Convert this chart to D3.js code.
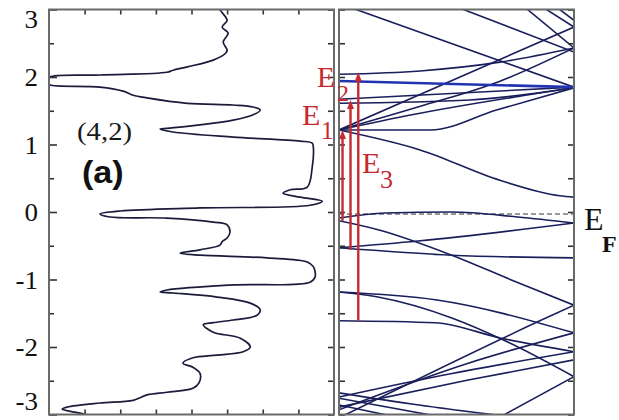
<!DOCTYPE html>
<html>
<head>
<meta charset="utf-8">
<script src="https://cdn.jsdelivr.net/npm/d3@7"></script>
<style>
  body { margin: 0; background: #fff; }
  svg { display: block; }
</style>
</head>
<body>
<svg id="chart" width="619" height="420"></svg>
<script>
// Energy axis (eV), shared by both panels
const energyTicks = [-3, -2, -1, 0, 1, 2, 3];
const energyMinorTicks = [-2.5, -1.5, -0.5, 0.5, 1.5, 2.5];
const dosTicks = [1, 2, 3, 4, 5, 6, 7];
const fermiLevel = -0.03;

// Density of states of the (4,2) tube: [energy, DOS]
const dosCurve = [
  [3.05, 4.80], [3.0, 4.80], [2.84, 5.0], [2.74, 4.86], [2.65, 5.03], [2.52, 4.89],
  [2.40, 5.0], [2.36, 4.97], [2.25, 4.61], [2.15, 3.88], [2.10, 3.48], [2.07, 3.31],
  [2.03, 1.43], [2.00, 0.03], [1.96, 0], [1.90, 0], [1.88, 0.03], [1.85, 1.43],
  [1.79, 2.08], [1.73, 2.36], [1.69, 2.75], [1.61, 3.88], [1.585, 5.17], [1.556, 5.73],
  [1.51, 5.93], [1.44, 5.73], [1.36, 5.17], [1.29, 4.24], [1.24, 3.31], [1.23, 3.12],
  [1.185, 3.48], [1.11, 5.17], [1.05, 7.05], [1.02, 7.39], [0.96, 7.42], [0.67, 7.39],
  [0.37, 7.25], [0.33, 6.77], [0.28, 6.57], [0.22, 7.05], [0.16, 7.67], [0.10, 7.33],
  [0.06, 4.24], [0.015, 2.0], [-0.03, 1.43], [-0.074, 1.71], [-0.09, 3.31], [-0.15, 4.61],
  [-0.19, 5.0], [-0.30, 5.08], [-0.385, 5.0], [-0.44, 4.86], [-0.49, 4.80], [-0.56, 4.24],
  [-0.61, 3.68], [-0.64, 4.24], [-0.68, 6.12], [-0.74, 7.25], [-0.81, 7.42], [-0.96, 7.47],
  [-1.04, 7.33], [-1.08, 5.17], [-1.156, 3.31], [-1.185, 3.12], [-1.2, 3.48], [-1.26, 4.72],
  [-1.35, 5.65], [-1.45, 5.93], [-1.53, 5.84], [-1.60, 5.17], [-1.64, 4.61], [-1.67, 4.33],
  [-1.78, 4.61], [-1.87, 5.37], [-2.0, 5.65], [-2.07, 5.45], [-2.12, 4.72], [-2.16, 4.04],
  [-2.24, 3.76], [-2.30, 4.04], [-2.39, 4.24], [-2.53, 4.21], [-2.61, 4.04], [-2.67, 3.31],
  [-2.71, 2.75], [-2.79, 2.36], [-2.83, 1.43], [-2.89, 0.51], [-2.92, 0.37], [-2.96, 0.67],
  [-2.99, 0.96], [-3.03, 1.15]
];

// Band dispersions: [k, energy], k running across the zone from 0 to 1
const bandA  = [[0, 3.09], [1, 1.85]];
const bandB  = [[0.455, 3.1], [1, 2.37]];
const bandC  = [[0.785, 3.05], [1, 2.43]];
const bandD  = [[0.86, 3.05], [1, 2.74]];
const bandE  = [[0.92, 3.05], [1, 2.84]];
const bandF  = [[0, 1.215], [1, 2.74]];
const bandG  = [[0, 1.215], [0.35, 1.57], [0.68, 1.93], [1, 2.43]];
const bandH  = [[0, 2.04], [0.345, 2.09], [0.685, 2.22], [1, 2.43]];
const bandI  = [[0, 1.94], [1, 1.85]];
const bandJ  = [[0, 1.67], [1, 1.85]];
const bandK  = [[0, 1.61], [0.557, 1.66], [1, 1.84]];
const bandL  = [[0, 1.215], [0.31, 1.44], [1, 1.84]];
const bandM  = [[0, 1.215], [0.39, 1.215], [0.67, 1.51], [1, 1.84]];
const bandN  = [[0, 1.215], [0.345, 0.92], [0.685, 0.47], [0.94, 0.24], [1, 0.22]];
const bandO  = [[0, -0.09], [0.196, -0.015], [0.48, 0], [0.76, -0.074], [1, -0.163]];
const bandP  = [[0, -0.13], [0.174, -0.27], [0.48, -0.64], [0.736, -1.01], [1, -1.38]];
const bandQ  = [[0, -0.53], [0.336, -0.43], [1, -0.163]];
const bandR  = [[0, -0.53], [0.48, -0.64], [1, -0.68]];
const bandS  = [[0, -1.185], [0.41, -1.30], [1, -1.79]];
const bandT  = [[0, -1.185], [0.166, -1.26], [0.48, -1.57], [0.72, -1.93], [1, -2.44]];
const bandU  = [[0, -1.61], [0.41, -1.64], [0.69, -1.87], [1, -2.07]];
const bandV  = [[0, -3.05], [0.85, -1.62], [1, -1.38]];
const bandW  = [[0, -2.93], [0.55, -2.24], [1, -1.79]];
const bandX  = [[0, -2.74], [0.41, -2.44], [1, -2.07]];
const bandY  = [[0, -2.89], [0.55, -2.49], [1, -2.19]];
const bandZ  = [[0, -2.68], [0.34, -2.86], [0.694, -3.02]];
const bandZ2 = [[0.694, -3.02], [1, -2.44]];
const bandZ3 = [[0, -2.76], [0.41, -3.02]];
const bandZ4 = [[0, -2.86], [0.22, -3.02]];

const darkBands = [bandA, bandB, bandC, bandD, bandE, bandF, bandG, bandH, bandJ, bandK,
  bandL, bandM, bandN, bandO, bandP, bandQ, bandR, bandS, bandT, bandU, bandV, bandW,
  bandX, bandY, bandZ, bandZ2, bandZ3, bandZ4];
const blueBands = [bandI];

// Optical transitions E1, E2, E3: k position, lower and upper energies
const transitionNames = ["1", "2", "3"];
const transitionK = [0.015, 0.049, 0.082];
const transitionFrom = [-0.13, -0.56, -1.61];
const transitionTo = [1.215, 1.66, 2.07];

const svg = d3.select("#chart");

const y = d3.scaleLinear().domain([-3, 3]).range([414.5, 9.5]);
const xDos = d3.scaleLinear().domain([0, 8]).range([49, 334]);
const xK = d3.scaleLinear().domain([0, 1]).range([339, 574]);

const frameColor = "#6a6a6a";
const red = "#c62a30";
const serif = "'Liberation Serif', 'DejaVu Serif', serif";

// clip regions for the two panels
const defs = svg.append("defs");
defs.append("clipPath").attr("id", "clipDos").append("rect")
  .attr("x", xDos(0)).attr("y", y(3)).attr("width", xDos(8) - xDos(0)).attr("height", y(-3) - y(3));
defs.append("clipPath").attr("id", "clipBand").append("rect")
  .attr("x", xK(0)).attr("y", y(3)).attr("width", xK(1) - xK(0)).attr("height", y(-3) - y(3));

// ---- left panel: density of states ----
const dosLine = d3.line()
  .x(d => xDos(d[1]))
  .y(d => y(d[0]))
  .curve(d3.curveCatmullRom.alpha(0.5));

svg.append("path")
  .datum(dosCurve)
  .attr("clip-path", "url(#clipDos)")
  .attr("d", dosLine)
  .attr("fill", "none")
  .attr("stroke", "#1b1b3c")
  .attr("stroke-width", 1.7);

function styleAxis(g) {
  g.select(".domain").remove();
  g.selectAll(".tick line").attr("stroke", "#333").attr("stroke-width", 1.6);
}

// energy labels and inward ticks on the left edge
const leftAxis = svg.append("g")
  .attr("transform", `translate(${xDos(0)},0)`)
  .call(d3.axisLeft(y).tickValues(energyTicks).tickSize(-8).tickPadding(11).tickFormat(d => String(d)));
styleAxis(leftAxis);
leftAxis.selectAll(".tick text")
  .attr("font-family", serif)
  .attr("font-size", 25)
  .attr("fill", "#111")
  .attr("dy", d => d === 3 ? "0.71em" : d === -3 ? "-0.2em" : "0.34em")
  .attr("transform", "scale(1.08,1)");
leftAxis.selectAll(".tick text").each(function () {
  const t = d3.select(this);
  t.attr("x", +t.attr("x") / 1.08);
});

const leftMinor = svg.append("g")
  .attr("transform", `translate(${xDos(0)},0)`)
  .call(d3.axisLeft(y).tickValues(energyMinorTicks).tickSize(-5).tickFormat(""));
styleAxis(leftMinor);

// ticks on the inner edge of the DOS panel
const dosRight = svg.append("g")
  .attr("transform", `translate(${xDos(8)},0)`)
  .call(d3.axisRight(y).tickValues(energyTicks.concat(energyMinorTicks)).tickSize(-6).tickFormat(""));
styleAxis(dosRight);

// DOS ticks top and bottom, no labels
const dosTop = svg.append("g")
  .attr("transform", `translate(0,${y(3)})`)
  .call(d3.axisTop(xDos).tickValues(dosTicks).tickSize(-5).tickFormat(""));
styleAxis(dosTop);
const dosBottom = svg.append("g")
  .attr("transform", `translate(0,${y(-3)})`)
  .call(d3.axisBottom(xDos).tickValues(dosTicks).tickSize(-5).tickFormat(""));
styleAxis(dosBottom);

// ---- right panel: band structure ----
const bandLine = d3.line()
  .x(d => xK(d[0]))
  .y(d => y(d[1]))
  .curve(d3.curveMonotoneX);

const bandG0 = svg.append("g").attr("clip-path", "url(#clipBand)");

// Fermi level
bandG0.append("line")
  .attr("x1", xK(0)).attr("x2", xK(1))
  .attr("y1", y(fermiLevel)).attr("y2", y(fermiLevel))
  .attr("stroke", "#333").attr("stroke-width", 1)
  .attr("stroke-dasharray", "5,3");

bandG0.selectAll("path.band")
  .data(darkBands)
  .join("path")
  .attr("class", "band")
  .attr("d", bandLine)
  .attr("fill", "none")
  .attr("stroke", "#1a1f5c")
  .attr("stroke-width", 1.6);

bandG0.selectAll("path.blue")
  .data(blueBands)
  .join("path")
  .attr("class", "blue")
  .attr("d", bandLine)
  .attr("fill", "none")
  .attr("stroke", "#2233b0")
  .attr("stroke-width", 2.6);

const bandLeft = svg.append("g")
  .attr("transform", `translate(${xK(0)},0)`)
  .call(d3.axisLeft(y).tickValues(energyTicks.concat(energyMinorTicks)).tickSize(-6).tickFormat(""));
styleAxis(bandLeft);
const bandRight = svg.append("g")
  .attr("transform", `translate(${xK(1)},0)`)
  .call(d3.axisRight(y).tickValues(energyTicks.concat(energyMinorTicks)).tickSize(-6).tickFormat(""));
styleAxis(bandRight);

// transition arrows
const arrows = svg.append("g");
transitionNames.forEach((name, i) => {
  const x = xK(transitionK[i]);
  const y0 = y(transitionFrom[i]);
  const y1 = y(transitionTo[i]);
  arrows.append("line")
    .attr("x1", x).attr("x2", x)
    .attr("y1", y0).attr("y2", y1 + 7)
    .attr("stroke", red).attr("stroke-width", 2.4);
  arrows.append("path")
    .attr("d", `M${x},${y1} L${x - 3.5},${y1 + 9} L${x + 3.5},${y1 + 9} Z`)
    .attr("fill", red);
});

// panel frames
[[xDos(0), xDos(8)], [xK(0), xK(1)]].forEach(([x0, x1]) => {
  svg.append("rect")
    .attr("x", x0).attr("y", y(3))
    .attr("width", x1 - x0).attr("height", y(-3) - y(3))
    .attr("fill", "none").attr("stroke", frameColor).attr("stroke-width", 2);
});

// labels
function label(txt, x, yy, size, opts = {}) {
  return svg.append("text")
    .attr("transform", `translate(${x},${yy}) scale(${opts.sx || 1},1)`)
    .attr("font-family", opts.family || serif)
    .attr("font-size", size)
    .attr("font-weight", opts.weight || "normal")
    .attr("fill", opts.fill || "#222")
    .text(txt);
}

label("(4,2)", 77, 140, 25, { sx: 1.15, fill: "#1a1a1a" });
label("(a)", 82, 183, 31, { family: "'Liberation Sans', Arial, sans-serif", weight: "bold", fill: "#111", sx: 1.1 });

// transition labels
label("E", 302, 125, 30, { fill: red });
label("1", 321, 139, 25, { fill: red });
label("E", 317, 87, 29, { fill: red });
label("2", 337, 101, 24, { fill: red });
label("E", 362, 173, 30, { fill: red });
label("3", 380, 188, 26, { fill: red });

// Fermi level label
label("E", 584, 230, 32, { fill: "#111" });
label("F", 602, 252, 24, { fill: "#111", weight: "bold" });
</script>
</body>
</html>
